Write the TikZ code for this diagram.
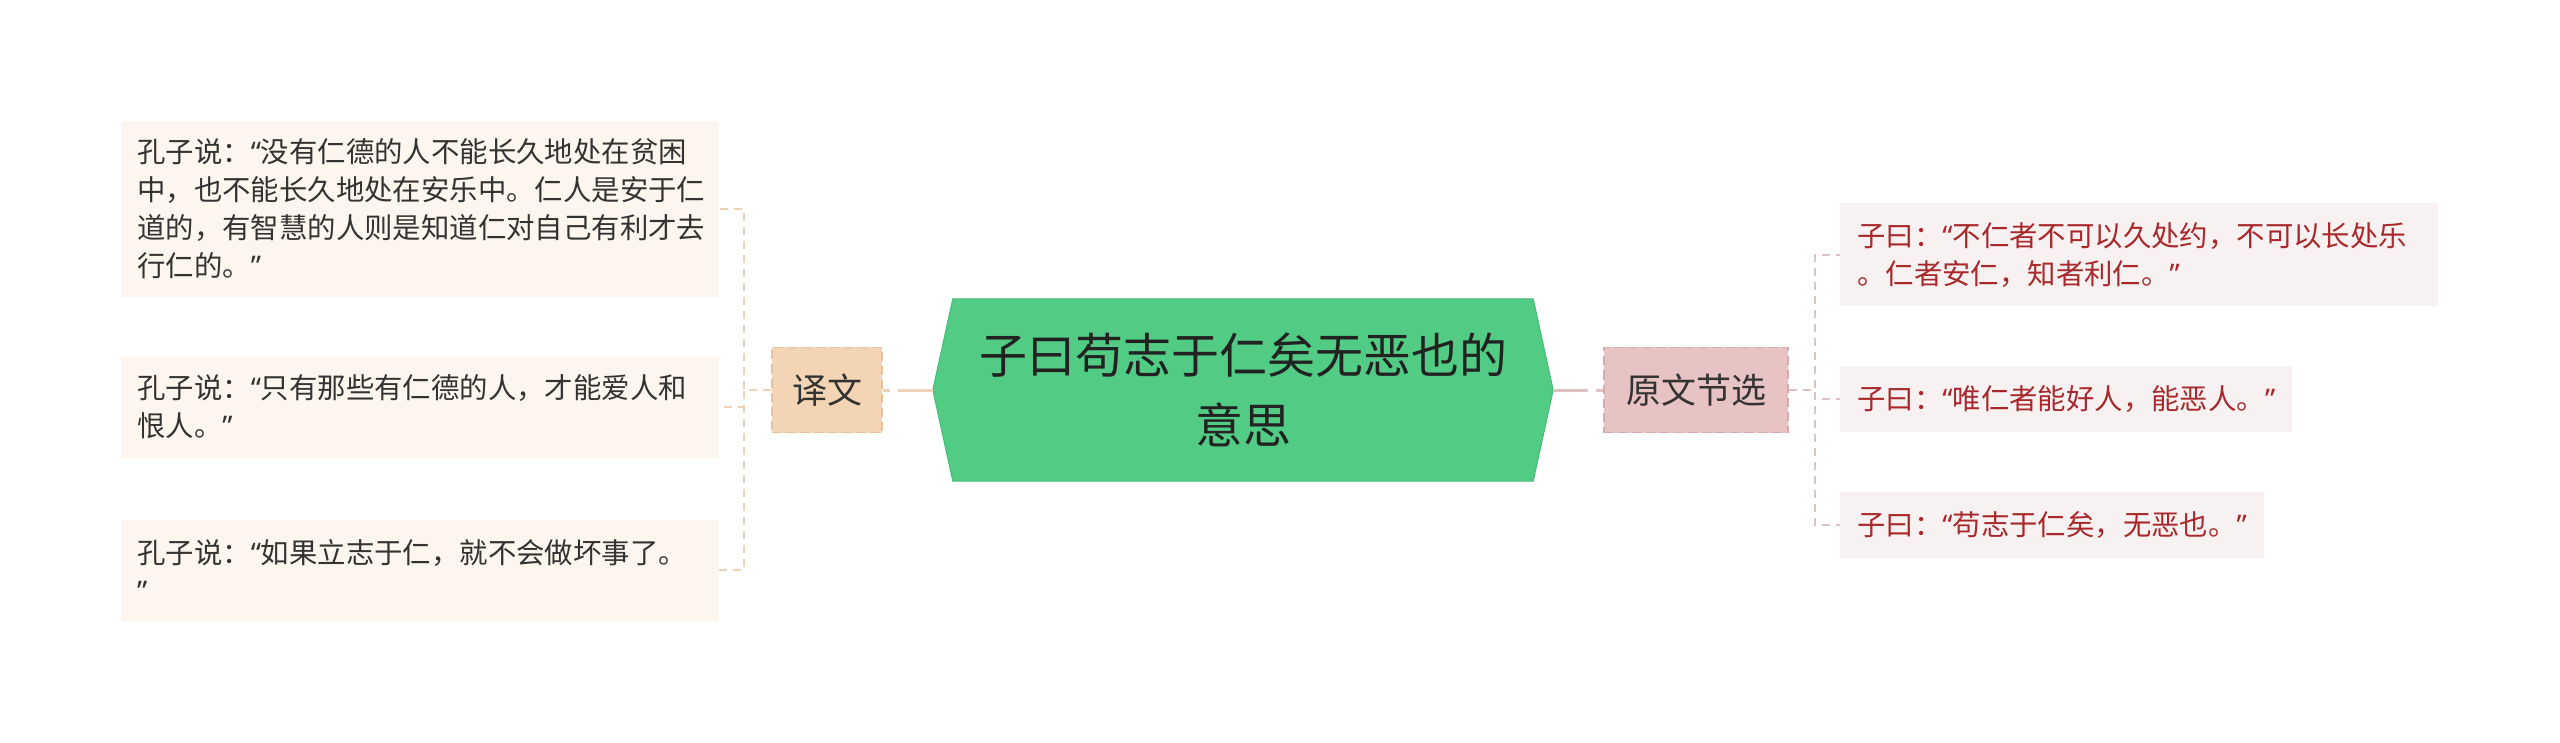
\documentclass[tikz,border=0pt]{standalone}
\usepackage{fontspec}
\setmainfont{Noto Sans CJK SC}
\newfontfamily\quotefont{Noto Sans}
\newcommand{\qo}{{\quotefont “}}
\newcommand{\qc}{{\quotefont ”}}
\usetikzlibrary{calc,positioning,backgrounds}

\definecolor{rootgreen}{HTML}{52CC84}
\definecolor{rootedge}{HTML}{47BC77}
\definecolor{roottext}{HTML}{222222}
\definecolor{ywfill}{HTML}{F3D4B4}
\definecolor{ywedge}{HTML}{E6C19C}
\definecolor{oxfill}{HTML}{E7C3C3}
\definecolor{oxedge}{HTML}{D6ACAC}
\definecolor{lfill}{HTML}{FDF6EF}
\definecolor{rfill}{HTML}{F8F1F1}
\definecolor{lline}{HTML}{EDD2B6}
\definecolor{rline}{HTML}{DFC1C1}
\definecolor{ltext}{HTML}{333333}
\definecolor{rtext}{HTML}{A8282B}

\tikzset{
  branch/.style={draw, dash pattern=on 9pt off 5pt, line width=1.5pt, minimum height=85pt,
    inner xsep=0pt, text=ltext, font=\fontsize{35}{40}\selectfont},
  lleaf/.style={fill=lfill, anchor=west, text width=566pt, inner xsep=16pt, align=left,
    text=ltext, font=\fontsize{28.4}{38}\selectfont},
  rleaf/.style={fill=rfill, anchor=west, inner xsep=17pt, align=left, minimum height=66pt,
    text=rtext, font=\fontsize{28.4}{38}\selectfont},
  lconn/.style={draw=lline, line width=2pt, dash pattern=on 8pt off 6pt},
  rconn/.style={draw=rline, line width=2pt, dash pattern=on 8pt off 6pt},
  mainconn/.style={line width=3pt, dash pattern=on 35pt off 8pt on 8pt off 8pt},
}

\begin{document}
\begin{tikzpicture}[x=1pt,y=-1pt]
  \useasboundingbox (0,0) rectangle (2560,743);

  % centre topic
  \node[minimum width=580pt, minimum height=182pt, inner sep=0pt, align=center,
    text=roottext, font=\fontsize{48}{70}\selectfont] at (1243,390) (root)
    {子曰苟志于仁矣无恶也的\\意思};
  \begin{scope}[on background layer]
    \fill[rootgreen, draw=rootedge, line width=1pt] (root.north west) -- (root.north east)
      -- ($(root.east)+(20,0)$) -- (root.south east) -- (root.south west)
      -- ($(root.west)+(-20,0)$) -- cycle;
  \end{scope}
  \coordinate (rootW) at ($(root.west)+(-20,0)$);
  \coordinate (rootE) at ($(root.east)+(20,0)$);

  % branches
  \node[branch, fill=ywfill, draw=ywedge, minimum width=110pt] at (827,390) (yw) {译文};
  \node[branch, fill=oxfill, draw=oxedge, minimum width=184pt] at (1696,390) (ox) {原文节选};
  \draw[mainconn, lline] (rootW) -- (yw.east);
  \draw[mainconn, rline] (rootE) -- (ox.west);

  % translations
  \node[lleaf, minimum height=176pt] at (121,209) (l1)
    {孔子说：\qo 没有仁德的人不能长久地处在贫困\\中，也不能长久地处在安乐中。仁人是安于仁\\道的，有智慧的人则是知道仁对自己有利才去\\行仁的。\qc};
  \node[lleaf, minimum height=101pt] at (121,407) (l2)
    {孔子说：\qo 只有那些有仁德的人，才能爱人和\\恨人。\qc};
  \node[lleaf, minimum height=101pt] at (121,570) (l3)
    {孔子说：\qo 如果立志于仁，就不会做坏事了。\\\qc};
  \foreach \n in {l1,l2,l3}
    \draw[lconn] (yw.west) -- ++(-27,0) |- (\n.east);

  % original text
  \node[rleaf, text width=564pt, minimum height=103pt] at (1840,255) (r1)
    {子曰：\qo 不仁者不可以久处约，不可以长处乐\\。仁者安仁，知者利仁。\qc};
  \node[rleaf] at (1840,399) (r2) {子曰：\qo 唯仁者能好人，能恶人。\qc};
  \node[rleaf] at (1840,525) (r3) {子曰：\qo 苟志于仁矣，无恶也。\qc};
  \foreach \n in {r1,r2,r3}
    \draw[rconn] (ox.east) -- ++(26,0) |- (\n.west);
\end{tikzpicture}
\end{document}
